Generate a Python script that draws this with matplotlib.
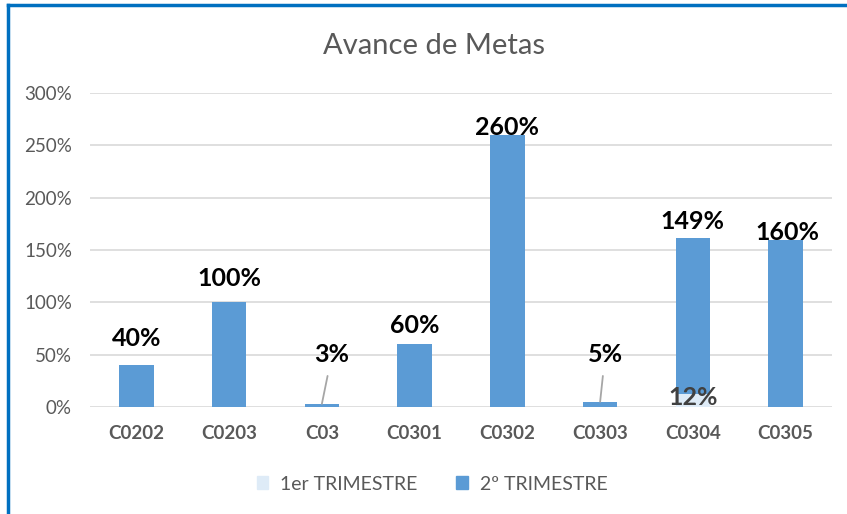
import matplotlib
matplotlib.use("Agg")
import matplotlib.pyplot as plt
from matplotlib.lines import Line2D
from matplotlib.patches import Patch
from matplotlib.ticker import FuncFormatter

plt.rcParams['font.family'] = ['Lato', 'DejaVu Sans']

# data
categorias = ['C0202', 'C0203', 'C03', 'C0301', 'C0302', 'C0303', 'C0304', 'C0305']
trim1 = [0.0, 0.0, 0.0, 0.0, 0.0, 0.0, 0.12, 0.0]
trim2 = [0.40, 1.00, 0.03, 0.60, 2.60, 0.05, 1.49, 1.60]
series_names = ['1er TRIMESTRE', '2º TRIMESTRE']
y_ticks = [0, 0.5, 1.0, 1.5, 2.0, 2.5, 3.0]

# label offsets (pixels above the bar top), leader line for the tiny ones
label_dx = [0, 0, 10, 0, 0, 5, 0, 2]
label_dy = [27, 24, 49, 19, 7, 47, 17, 7]
leader = [False, False, True, False, False, True, False, False]

c1 = '#DEEBF7'
c2 = '#5B9BD5'
grey = '#595959'

fig = plt.figure(figsize=(8.47, 5.14), dpi=100)
ax = fig.add_axes([90 / 847, 1 - 407 / 514, (832 - 90) / 847, (407 - 93) / 514])

x = list(range(len(categorias)))
w = 0.37
b1 = ax.bar(x, trim1, width=w, color=c1, zorder=2)
b2 = ax.bar(x, trim2, width=w, bottom=trim1, color=c2, zorder=2)

for i in x:
    top = trim1[i] + trim2[i]
    txt = f"{round(trim2[i] * 100):d}%"
    if leader[i]:
        ax.annotate(txt, xy=(i, top), xytext=(label_dx[i], label_dy[i]),
                    textcoords='offset pixels', ha='center', va='center',
                    fontsize=18, fontweight='bold', color='black',
                    arrowprops=dict(arrowstyle='-', color='#A6A6A6', lw=1.3,
                                    shrinkA=5, shrinkB=0))
    else:
        ax.annotate(txt, xy=(i, top), xytext=(label_dx[i], label_dy[i]),
                    textcoords='offset pixels', ha='center', va='center',
                    fontsize=18, fontweight='bold', color='black', zorder=4)
    if trim1[i] > 0:
        ax.annotate(f"{round(trim1[i] * 100):d}%", xy=(i, trim1[i] / 2),
                    xytext=(0, 3), textcoords='offset pixels',
                    ha='center', va='center', fontsize=18, fontweight='bold',
                    color='#404040', zorder=4)

ax.set_xlim(-0.5, len(categorias) - 0.5)
ax.set_ylim(0, 3)
ax.set_yticks(y_ticks)
ax.yaxis.set_major_formatter(FuncFormatter(lambda v, p: f"{v * 100:.0f}%"))
ax.set_xticks(x)
ax.set_xticklabels(categorias, fontweight='bold', color=grey, fontsize=13.5)
ax.tick_params(axis='y', colors=grey, labelsize=13.5, length=0, pad=13)
ax.tick_params(axis='x', length=0, pad=13)
ax.grid(axis='y', color='#D9D9D9', lw=1.2, zorder=0)
for s in ax.spines.values():
    s.set_visible(False)

fig.text(434 / 847, 1 - 46 / 514, 'Avance de Metas', fontsize=21, color=grey,
         ha='center', va='center')

handles = [Patch(color=c1), Patch(color=c2)]
fig.legend(handles, series_names, loc='center', bbox_to_anchor=(0.51, 1 - 484 / 514),
           ncol=2, frameon=False, fontsize=14, labelcolor=grey,
           handlelength=0.6, handleheight=0.6, handletextpad=0.6, columnspacing=2.0)

# blue outer frame (left and top visible)
fig.add_artist(Line2D([8 / 847, 8 / 847], [0, 1 - 5 / 514], color='#0070C0', lw=2.5))
fig.add_artist(Line2D([8 / 847, 1], [1 - 5 / 514, 1 - 5 / 514], color='#0070C0', lw=2.5))

fig.savefig('out.png', dpi=100)
